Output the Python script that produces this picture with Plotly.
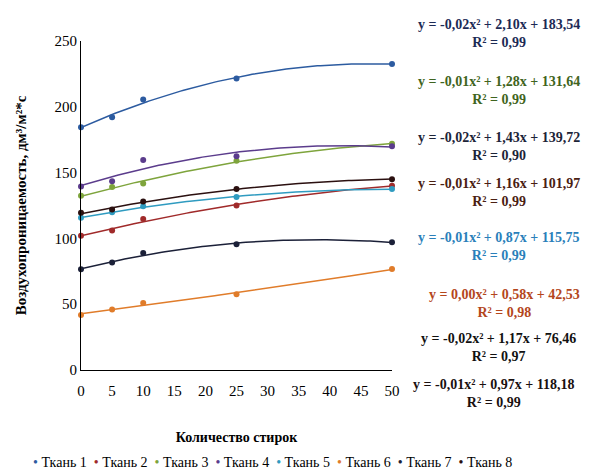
import numpy as np
import plotly.graph_objects as go

washes = [0, 5, 10, 25, 50]
series_names = ["Ткань 1", "Ткань 2", "Ткань 3", "Ткань 4", "Ткань 5", "Ткань 6", "Ткань 7", "Ткань 8"]

tkan1 = [184.5, 192, 205.5, 221.5, 232.5]
tkan2 = [102, 106, 114.7, 125, 140]
tkan3 = [132.4, 139, 141.8, 159, 172]
tkan4 = [139.5, 143.5, 159.5, 162.5, 170]
tkan5 = [115.7, 119.8, 124.5, 131.5, 137.5]
tkan6 = [41.8, 46, 50.9, 57.5, 76.7]
tkan7 = [76.5, 81.6, 89, 95.5, 97]
tkan8 = [119.5, 122, 128, 137.5, 145]

colors = ["#2C5BA0", "#A02A2A", "#7EA43C", "#5B3C8C", "#2F9BC0", "#E07C2A", "#1B2038", "#2B1010"]

equations = [
    "y = -0,02x² + 2,10x + 183,54<br>R² = 0,99",
    "y = -0,01x² + 1,28x + 131,64<br>R² = 0,99",
    "y = -0,02x² + 1,43x + 139,72<br>R² = 0,90",
    "y = -0,01x² + 1,16x + 101,97<br>R² = 0,99",
    "y = -0,01x² + 0,87x + 115,75<br>R² = 0,99",
    "y = 0,00x² + 0,58x + 42,53<br>R² = 0,98",
    "y = -0,02x² + 1,17x + 76,46<br>R² = 0,97",
    "y = -0,01x² + 0,97x + 118,18<br>R² = 0,99",
]
eq_colors = ["#1C2A55", "#3F6420", "#1C2438", "#4A2012", "#2A7FBA", "#B4461C", "#111111", "#1A1010"]
# positions in page pixels (window 589x473)
eq_y_px = [33, 90, 146, 193, 246, 303, 347, 393]
eq_x_px = [501, 501, 501, 501, 501, 507, 501, 496]

all_series = [tkan1, tkan2, tkan3, tkan4, tkan5, tkan6, tkan7, tkan8]

OFF = 8  # default body margin of the html page
W, H = 589 - OFF, 473 - OFF
ml, mt = 75 - OFF, 41 - OFF
pr, pb = 392 - OFF, 370 - OFF
mr, mb = W - pr, H - pb
pw, ph = pr - ml, pb - mt


def to_paper(px, py):
    return (px - OFF - ml) / pw, (pb - (py - OFF)) / ph


fig = go.Figure()
xs = np.linspace(0, 50, 101)
for name, ys, c in zip(series_names, all_series, colors):
    coef = np.polyfit(washes, ys, 2)
    fig.add_trace(go.Scatter(x=xs, y=np.polyval(coef, xs), mode="lines",
                             line=dict(color=c, width=1.5), showlegend=False,
                             hoverinfo="skip", cliponaxis=False))
    fig.add_trace(go.Scatter(x=washes, y=ys, mode="markers", name=name,
                             marker=dict(color=c, size=6), showlegend=False,
                             cliponaxis=False))

annotations = []
for eq, c, ypx, xpx in zip(equations, eq_colors, eq_y_px, eq_x_px):
    ax, ay = to_paper(xpx, ypx)
    annotations.append(dict(
        x=ax, y=ay, xref="paper", yref="paper",
        text="<b>" + eq + "</b>", showarrow=False, align="center",
        xanchor="center", yanchor="middle",
        font=dict(family="Liberation Serif", size=14, color=c)))

# legend row as text
legend_text = "  ".join(
    f"<span style='color:{c}'>•</span> {n}" for n, c in zip(series_names, colors))
lx, ly = to_paper(270, 462)
annotations.append(dict(x=lx, y=ly, xref="paper", yref="paper",
                        text=legend_text, showarrow=False, xanchor="center",
                        yanchor="middle",
                        font=dict(family="Liberation Serif", size=14, color="#000000")))

fig.update_layout(
    width=W, height=H,
    margin=dict(l=ml, r=mr, t=mt, b=mb),
    paper_bgcolor="white", plot_bgcolor="white",
    font=dict(family="Liberation Serif", size=15, color="#000000"),
    annotations=annotations,
    showlegend=False,
    xaxis=dict(range=[0, 50], tickmode="linear", tick0=0, dtick=5,
               showgrid=False, zeroline=False, showline=True, linecolor="black",
               linewidth=1, ticks="outside", ticklen=7, tickcolor="rgba(0,0,0,0)",
               tickfont=dict(size=15),
               title=dict(text="<b>Количество стирок</b>", standoff=34,
                          font=dict(size=14))),
    yaxis=dict(range=[0, 250], tickmode="linear", tick0=0, dtick=50,
               showgrid=False, zeroline=False, showline=True, linecolor="black",
               linewidth=1, ticks="", tickfont=dict(size=15),
               title=dict(text="<b>Воздухопроницаемость, дм³/м²*с</b>", standoff=24,
                          font=dict(size=15))),
)

fig.write_html("out.html")
